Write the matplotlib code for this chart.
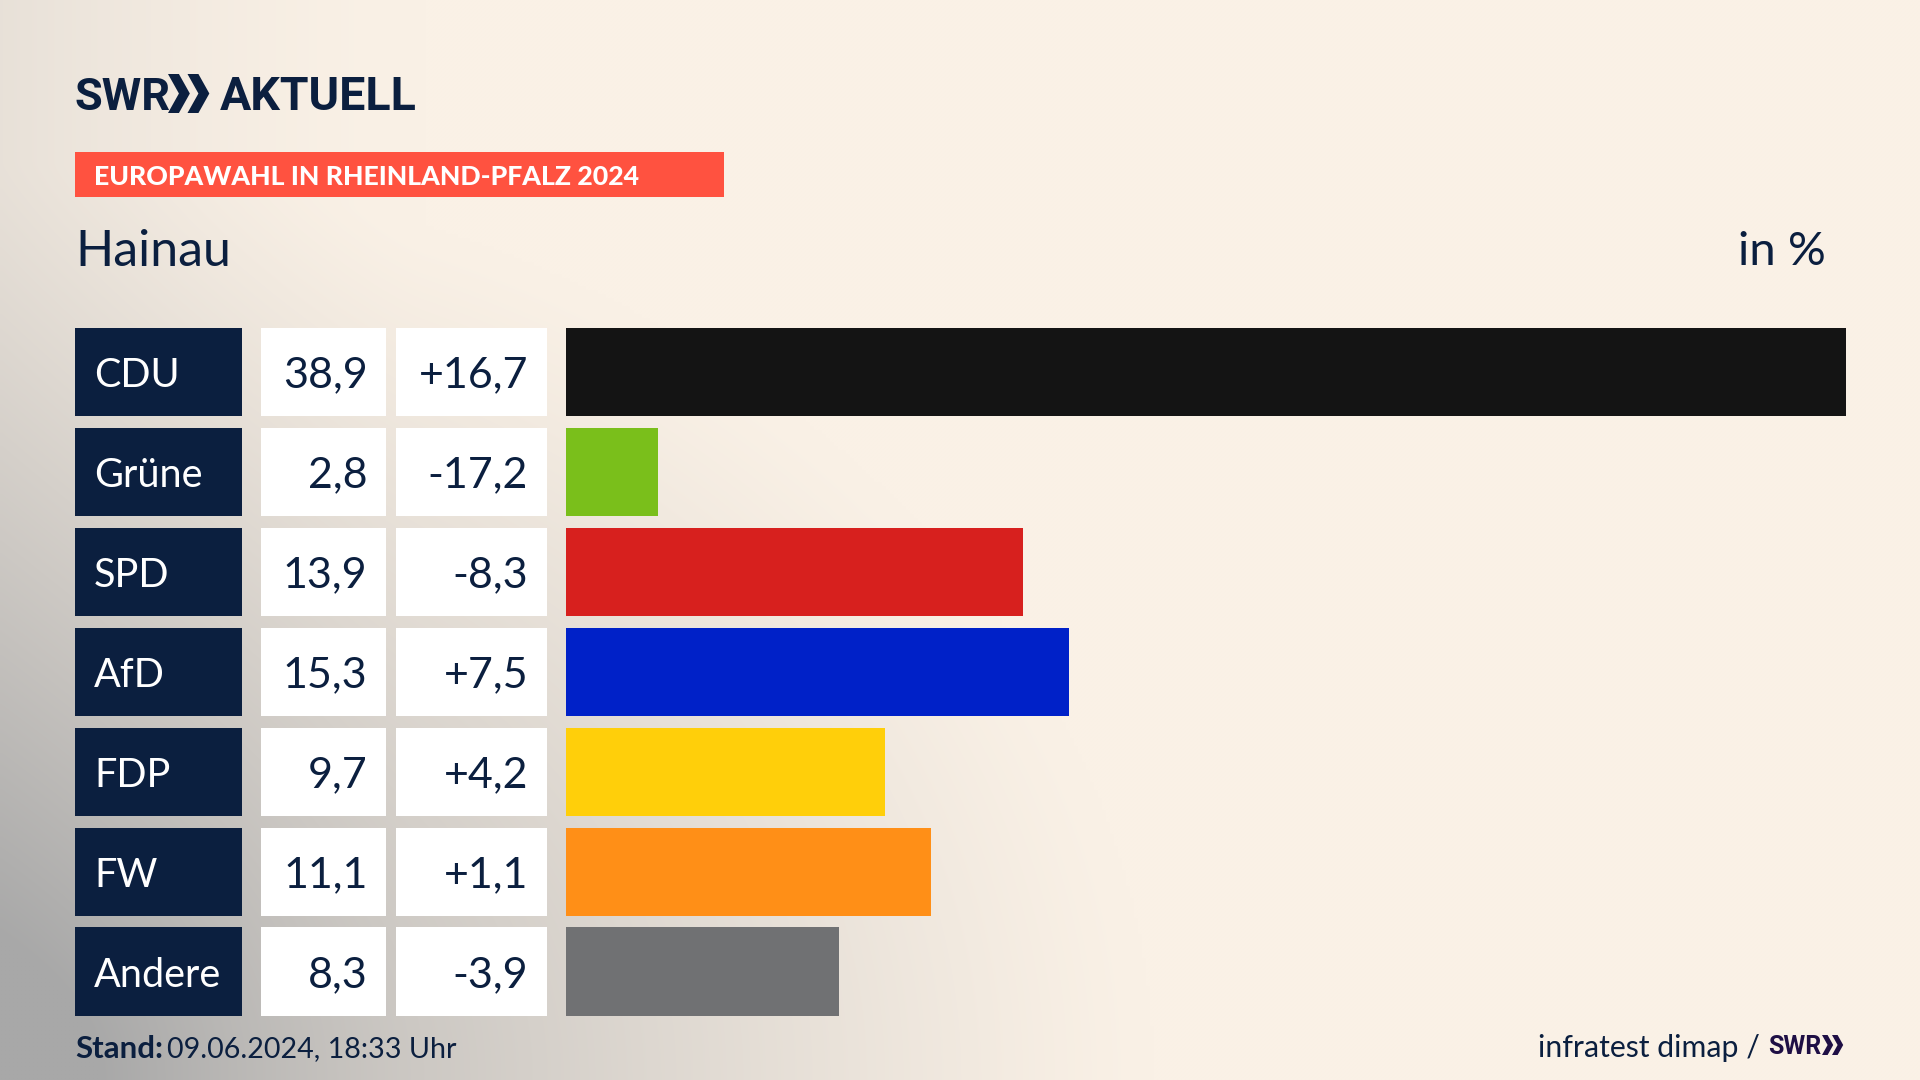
import numpy as np
import matplotlib
matplotlib.use("Agg")
import matplotlib.pyplot as plt
from matplotlib.patches import Polygon, Rectangle

parties = ["CDU", "Grüne", "SPD", "AfD", "FDP", "FW", "Andere"]
shares = [38.9, 2.8, 13.9, 15.3, 9.7, 11.1, 8.3]
share_labels = ["38,9", "2,8", "13,9", "15,3", "9,7", "11,1", "8,3"]
change_labels = ["+16,7", "-17,2", "-8,3", "+7,5", "+4,2", "+1,1", "-3,9"]
colors = ["#141414", "#7ABF1B", "#D7201E", "#0021C8", "#FFCF0A", "#FF8F17", "#707173"]

W, H = 1920, 1080
NAVY = "#0B1F3F"
FONT = "Lato"
fig = plt.figure(figsize=(W / 100, H / 100), dpi=100)

# background gradient
bg = fig.add_axes([0, 0, 1, 1], zorder=0)
bg.set_xlim(0, W); bg.set_ylim(H, 0); bg.axis("off")
xx, yy = np.meshgrid(np.linspace(0, 1, 480), np.linspace(0, 1, 270))
d = np.sqrt((xx / 0.60) ** 2 + ((1 - yy) / 0.85) ** 2)
t1 = np.clip(1 - d, 0, 1) ** 1.2
t2 = np.clip(1 - xx / 0.22, 0, 1) ** 1.6 * 0.22
t = np.clip(t1 * 0.95 + t2, 0, 1)[..., None]
c0 = np.array([0xFA, 0xF1, 0xE6]) / 255
c1 = np.array([0xA8, 0xA8, 0xA8]) / 255
bg.imshow(c0 * (1 - t) + c1 * t, extent=[0, W, H, 0], aspect="auto", interpolation="bilinear")
bg.set_xlim(0, W); bg.set_ylim(H, 0)

TOP, PITCH, ROW_H = 328.0, 99.9, 88.2
bottom_px = TOP + 6 * PITCH + ROW_H
unit_h = ROW_H / PITCH
ypos = [0, 1, 2, 3, 4, 5, 6]
ylim = (6 + unit_h / 2, -unit_h / 2)

# table cells
tb = fig.add_axes([0, 1 - bottom_px / H, 1, (bottom_px - TOP) / H], zorder=1)
tb.set_xlim(0, W); tb.set_ylim(*ylim); tb.axis("off")
tb.barh(ypos, [167] * 7, left=75, height=unit_h, color=NAVY)
tb.barh(ypos, [125] * 7, left=261, height=unit_h, color="white")
tb.barh(ypos, [151] * 7, left=396, height=unit_h, color="white")
for i in ypos:
    tb.text(94, i, parties[i], color="white", fontsize=28.5, family=FONT, va="center_baseline", ha="left")
    tb.text(367.5, i, share_labels[i], color=NAVY, fontsize=31, family=FONT, va="center_baseline", ha="right")
    tb.text(528, i, change_labels[i], color=NAVY, fontsize=31, family=FONT, va="center_baseline", ha="right")

# bars
ax = fig.add_axes([566.3 / W, 1 - bottom_px / H, 1279.2 / W, (bottom_px - TOP) / H], zorder=1)
ax.set_xlim(0, 38.9); ax.set_ylim(*ylim); ax.axis("off")
ax.barh(ypos, shares, height=unit_h, color=colors)

# header and footer
fg = fig.add_axes([0, 0, 1, 1], zorder=2)
fg.set_xlim(0, W); fg.set_ylim(H, 0); fg.axis("off")

def chevrons(x, y, h, color):
    w = h * 0.56
    step = h * 0.5
    for dx in (0, step):
        fg.add_patch(Polygon([(x + dx, y), (x + dx + w * 0.5, y), (x + dx + w, y + h / 2),
                              (x + dx + w * 0.5, y + h), (x + dx, y + h), (x + dx + w * 0.5, y + h / 2)],
                             closed=True, color=color, lw=0))

LOGO = "Roboto"
fg.text(75, 110, "SWR", color=NAVY, fontsize=32.5, family=LOGO, weight="bold", va="baseline")
chevrons(168, 74, 39, NAVY)
fg.text(220, 110, "AKTUELL", color=NAVY, fontsize=33.5, family=LOGO, weight="bold", va="baseline")

fg.add_patch(Rectangle((75, 152), 649, 45, color="#FF5240", lw=0))
fg.text(94, 175, "EUROPAWAHL IN RHEINLAND-PFALZ 2024", color="white", fontsize=19.2, family=FONT,
        weight=900, va="center_baseline")
fg.text(75, 248, "Hainau", color=NAVY, fontsize=36, family=FONT, va="center_baseline")
fg.text(1826, 248, "in %", color=NAVY, fontsize=34, family=FONT, va="center_baseline", ha="right")

fg.text(75, 1047, "Stand:", color=NAVY, fontsize=22.5, family=FONT, weight="bold", va="center_baseline")
fg.text(167, 1047, "09.06.2024, 18:33 Uhr", color=NAVY, fontsize=20.6, family=FONT, va="center_baseline")
fg.text(1760, 1046, "infratest dimap /", color=NAVY, fontsize=21.8, family=FONT, va="center_baseline", ha="right")
fg.text(1768, 1054, "SWR", color="#1F0F45", fontsize=18, family=LOGO, weight="bold", va="baseline")
chevrons(1822, 1035, 20, "#1F0F45")

fig.savefig("out.png", dpi=100)
